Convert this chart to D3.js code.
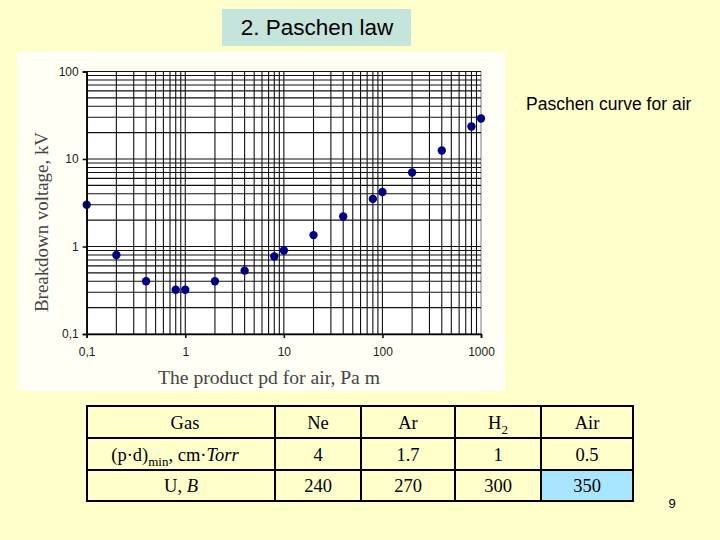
<!DOCTYPE html>
<html>
<head>
<meta charset="utf-8">
<script src="https://cdn.jsdelivr.net/npm/d3@7"></script>
<style>
  html, body { margin: 0; padding: 0; background: #FFFFCC; }
  svg { display: block; }
</style>
</head>
<body>
<svg id="chart" width="720" height="540"></svg>
<script>
// ---- data ----
const pdValues = [0.1, 0.2, 0.4, 0.8, 1, 2, 4, 8, 10, 20, 40, 80, 100, 200, 400, 800, 1000];
const voltageKV = [3, 0.8, 0.4, 0.32, 0.32, 0.4, 0.53, 0.77, 0.9, 1.35, 2.2, 3.5, 4.2, 7, 12.5, 23.5, 29];
const xTickValues = [0.1, 1, 10, 100, 1000];
const yTickValues = [0.1, 1, 10, 100];
const xTickLabels = ["0,1", "1", "10", "100", "1000"];
const yTickLabels = ["0,1", "1", "10", "100"];

const gases = ["Ne", "Ar", "H2", "Air"];
const pdMin = ["4", "1.7", "1", "0.5"];
const breakdownU = ["240", "270", "300", "350"];

// ---- drawing ----
const svg = d3.select("#chart");

// title box
svg.append("rect").attr("x", 222).attr("y", 9).attr("width", 189).attr("height", 37)
  .attr("fill", "#C4E4DC");
svg.append("text").attr("x", 317).attr("y", 35).attr("text-anchor", "middle")
  .attr("font-family", "Arial, 'Liberation Sans', sans-serif").attr("font-size", 22.5)
  .attr("fill", "#000").text("2. Paschen law");

// chart image background
svg.append("rect").attr("x", 17).attr("y", 52).attr("width", 488).attr("height", 339)
  .attr("fill", "#FFFFF6");

const x = d3.scaleLog().domain([0.1, 1000]).range([86.7, 481]);
const y = d3.scaleLog().domain([0.1, 100]).range([334, 71.5]);

const plot = svg.append("g");
plot.append("rect").attr("x", x(0.1)).attr("y", y(100))
  .attr("width", x(1000) - x(0.1)).attr("height", y(0.1) - y(100)).attr("fill", "#fff");

// grid
plot.selectAll("line.vg").data(x.ticks()).join("line").attr("class", "vg")
  .attr("x1", d => x(d)).attr("x2", d => x(d))
  .attr("y1", y(100)).attr("y2", y(0.1))
  .attr("stroke", d => d === 1000 ? "#888" : "#111").attr("stroke-width", 1.1);
plot.selectAll("line.hg").data(y.ticks()).join("line").attr("class", "hg")
  .attr("x1", x(0.1)).attr("x2", x(1000))
  .attr("y1", d => y(d)).attr("y2", d => y(d))
  .attr("stroke", "#111").attr("stroke-width", 1.1);

// axes
const yAxis = d3.axisLeft(y).tickValues(yTickValues)
  .tickFormat((d, i) => yTickLabels[i]).tickSize(4).tickPadding(4);
const xAxis = d3.axisBottom(x).tickValues(xTickValues)
  .tickFormat((d, i) => xTickLabels[i]).tickSize(4).tickPadding(9);

const gy = svg.append("g").attr("transform", `translate(${x(0.1)},0)`).call(yAxis);
const gx = svg.append("g").attr("transform", `translate(0,${y(0.1)})`).call(xAxis);
[gx, gy].forEach(g => {
  g.select(".domain").attr("stroke", "#000").attr("stroke-width", 1.5);
  g.selectAll(".tick line").attr("stroke", "#000").attr("stroke-width", 1.5);
  g.selectAll(".tick text").attr("font-family", "Arial, 'Liberation Sans', sans-serif")
    .attr("font-size", 12).attr("fill", "#222");
});

// axis titles
svg.append("text").attr("transform", "translate(48,312) rotate(-90)")
  .attr("text-anchor", "start")
  .attr("font-family", "'Times New Roman', 'Liberation Serif', serif").attr("font-size", 18.5)
  .attr("textLength", 180).attr("lengthAdjust", "spacingAndGlyphs")
  .attr("fill", "#444").text("Breakdown voltage, kV");
svg.append("text").attr("x", 158).attr("y", 384)
  .attr("font-family", "'Times New Roman', 'Liberation Serif', serif").attr("font-size", 18.5)
  .attr("fill", "#444").attr("textLength", 222).attr("lengthAdjust", "spacingAndGlyphs")
  .text("The product pd for air, Pa m");

// points
const pts = pdValues.map((p, i) => ({ p, v: voltageKV[i] }));
plot.selectAll("circle.pt").data(pts).join("circle").attr("class", "pt")
  .attr("cx", d => x(d.p)).attr("cy", d => y(d.v)).attr("r", 4.2)
  .attr("fill", "#000080");

// caption
svg.append("text").attr("x", 526).attr("y", 110)
  .attr("font-family", "Arial, 'Liberation Sans', sans-serif").attr("font-size", 17.5)
  .attr("fill", "#000").text("Paschen curve for air");

// ---- table ----
const colX = [87, 275, 361, 455, 541, 633];
const rowY = [406, 438, 470, 501];
const tbl = svg.append("g");
tbl.append("rect").attr("x", colX[4]).attr("y", rowY[2])
  .attr("width", colX[5] - colX[4]).attr("height", rowY[3] - rowY[2]).attr("fill", "#A8E6FF");
tbl.selectAll("line.cv").data(colX).join("line").attr("class", "cv")
  .attr("x1", d => d).attr("x2", d => d).attr("y1", rowY[0]).attr("y2", rowY[3])
  .attr("stroke", "#000").attr("stroke-width", 2);
tbl.selectAll("line.rh").data(rowY).join("line").attr("class", "rh")
  .attr("x1", colX[0] - 1).attr("x2", colX[5] + 1).attr("y1", d => d).attr("y2", d => d)
  .attr("stroke", "#000").attr("stroke-width", 2);

const serif = "'Times New Roman', 'Liberation Serif', serif";
const cellText = (cx, cy) => tbl.append("text").attr("x", cx).attr("y", cy)
  .attr("text-anchor", "middle").attr("font-family", serif).attr("font-size", 18.5).attr("fill", "#000");

const rowBase = [428.5, 460.5, 492];
const c0 = (colX[0] + colX[1]) / 2;
cellText(c0 + 4, rowBase[0]).text("Gas");
const t1 = cellText(c0 - 6, rowBase[1]);
t1.append("tspan").text("(p·d)");
t1.append("tspan").attr("dy", 5).attr("font-size", 13).text("min");
t1.append("tspan").attr("dy", -5).text(", cm·");
t1.append("tspan").attr("font-style", "italic").text("Torr");
const t2 = cellText(c0, rowBase[2]);
t2.append("tspan").text("U, ");
t2.append("tspan").attr("font-style", "italic").text("B");

gases.forEach((g, i) => {
  const cx = (colX[i + 1] + colX[i + 2]) / 2;
  const t = cellText(cx, rowBase[0]);
  const m = g.match(/^([A-Za-z]+?)(\d+)$/);
  if (m) {
    t.append("tspan").text(m[1]);
    t.append("tspan").attr("dy", 5).attr("font-size", 13).text(m[2]);
  } else {
    t.text(g);
  }
  cellText(cx, rowBase[1]).text(pdMin[i]);
  cellText(cx, rowBase[2]).text(breakdownU[i]);
});

// page number
svg.append("text").attr("x", 672).attr("y", 508).attr("text-anchor", "middle")
  .attr("font-family", "Arial, 'Liberation Sans', sans-serif").attr("font-size", 13)
  .attr("fill", "#000").text("9");
</script>
</body>
</html>
